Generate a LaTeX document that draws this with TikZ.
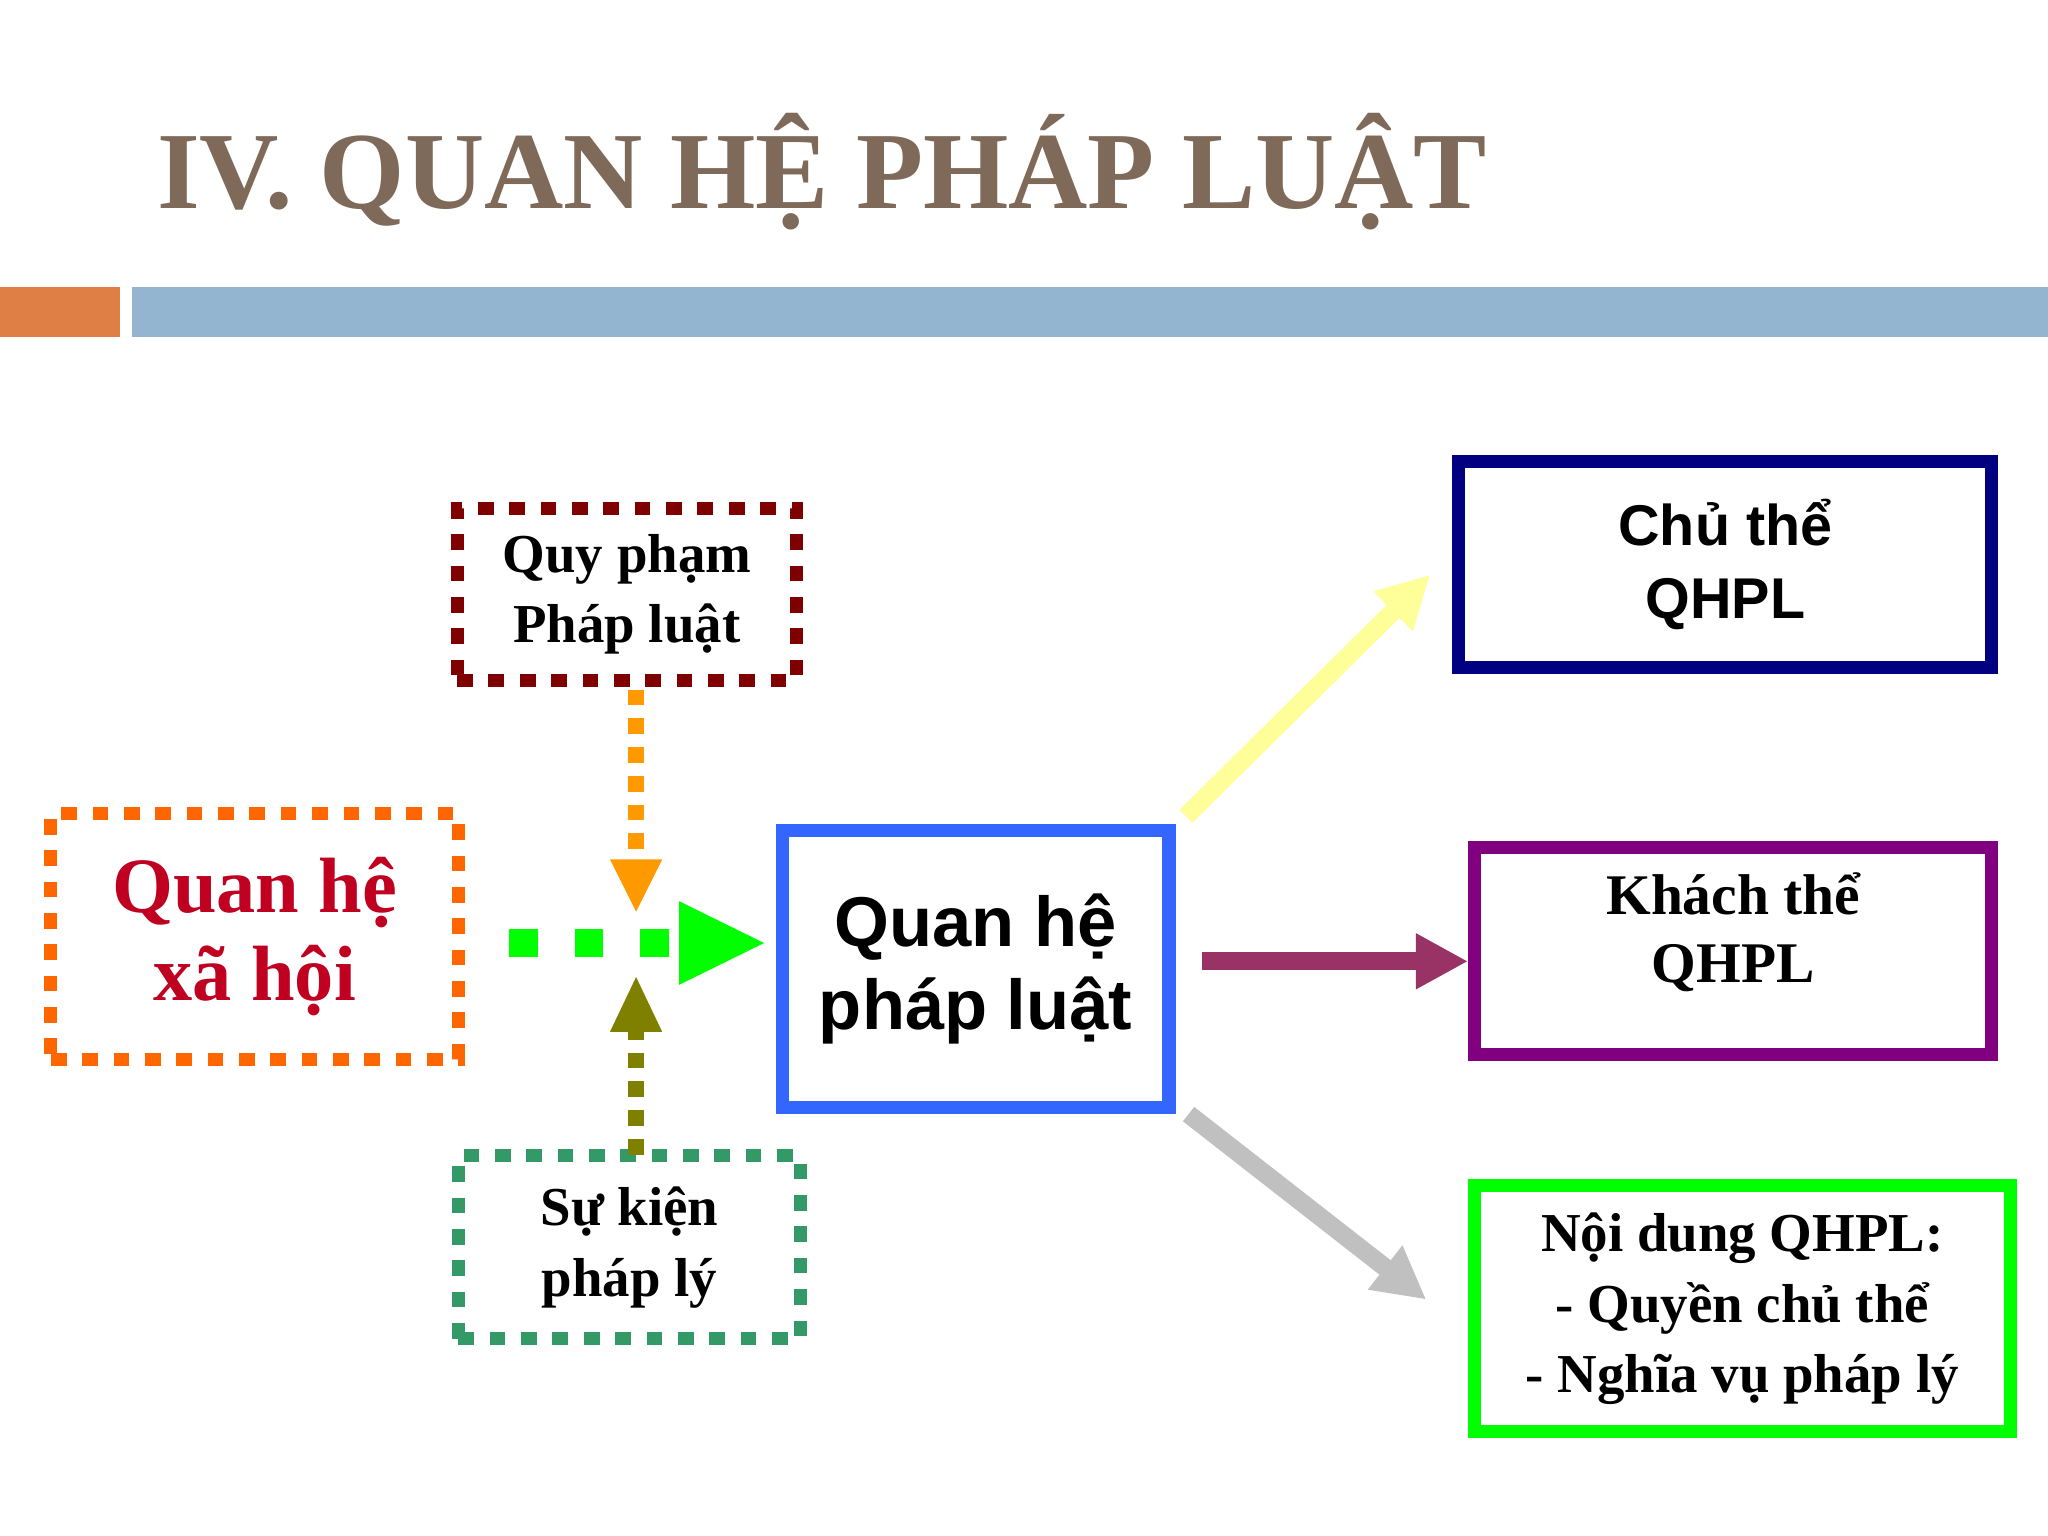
\documentclass[tikz,border=0pt]{standalone}
\usepackage{fontspec}
\setmainfont{Liberation Serif}
\newfontfamily\sansf{Liberation Sans}
\usetikzlibrary{arrows.meta}
\definecolor{titlec}{HTML}{7F6A5A}
\definecolor{orbar}{HTML}{E07F45}
\definecolor{blbar}{HTML}{93B5CF}
\definecolor{dred}{HTML}{7F0000}
\definecolor{orng}{HTML}{FF6600}
\definecolor{redt}{HTML}{C00020}
\definecolor{blu}{HTML}{3366FF}
\definecolor{grn}{HTML}{339966}
\definecolor{navy}{HTML}{000080}
\definecolor{purp}{HTML}{800080}
\definecolor{lime}{HTML}{00FF00}
\definecolor{yel}{HTML}{FFFF99}
\definecolor{maro}{HTML}{993366}
\definecolor{gry}{HTML}{C0C0C0}
\definecolor{oliv}{HTML}{808000}
\definecolor{amb}{HTML}{FF9900}
\tikzset{
  dotbox/.style={draw, line width=5pt, dash pattern=on 6pt off 6pt, align=center, inner sep=0pt},
  solbox/.style={draw, line width=5pt, align=center, inner sep=0pt},
  serifb/.style={font=\bfseries\fontsize{21}{27}\selectfont},
  sansb/.style={font=\sansf\bfseries\fontsize{22}{28}\selectfont},
  arr/.style={line width=7pt, -{Triangle[length=20pt,width=20pt]}},
}
\begin{document}
\begin{tikzpicture}[x=0.5pt,y=-0.5pt]
\useasboundingbox (0,0) rectangle (1568,1176);
\fill[white] (0,0) rectangle (1568,1176);
\node[anchor=base west, text=titlec, font=\bfseries\fontsize{42}{46}\selectfont, inner sep=0pt] (title) at (120,160) {IV. QUAN HỆ PHÁP LUẬT};
\fill[orbar] (0,220) rectangle (92,258);
\fill[blbar] (101,220) rectangle (1568,258);

\node[dotbox, draw=dred, serifb, minimum width=130pt, minimum height=66pt] (qp) at (480,455) {Quy phạm\\Pháp luật};
\node[dotbox, draw=orng, text=redt, font=\bfseries\fontsize{30}{34}\selectfont, minimum width=156pt, minimum height=94pt] (xh) at (195,717) {Quan hệ\\xã hội};
\node[solbox, draw=blu, font=\sansf\bfseries\fontsize{27}{32}\selectfont, minimum width=148pt, minimum height=106pt] (pl) at (747,742) {Quan hệ\\pháp luật};
\node[dotbox, draw=grn, serifb, minimum width=131pt, minimum height=70pt] (sk) at (482,955) {Sự kiện\\pháp lý};
\node[solbox, draw=navy, sansb, minimum width=204pt, minimum height=79pt] (ct) at (1321,432) {Chủ thể\\QHPL};
\node[solbox, draw=purp, font=\bfseries\fontsize{22}{26}\selectfont, minimum width=198pt, minimum height=79pt, text depth=18pt] (kt) at (1327,728) {Khách thể\\QHPL};
\node[solbox, draw=lime, serifb, minimum width=205pt, minimum height=94pt] (nd) at (1334,1002) {Nội dung QHPL:\\- Quyền chủ thể\\- Nghĩa vụ pháp lý};

\coordinate (g1) at (390,722);
\coordinate (g2) at (585,722);
\draw[lime, line width=11pt, dash pattern=on 11pt off 14pt] (g1) -- (520,722);
\fill[lime] (520,690) -- (g2) -- (520,754) -- cycle;
\coordinate (o1) at (487,528);
\coordinate (o2) at (487,698);
\draw[amb, line width=6pt, dash pattern=on 6pt off 5pt] (o1) -- (487,660);
\fill[amb] (467,658) -- (o2) -- (507,658) -- cycle;
\coordinate (v1) at (487,884);
\coordinate (v2) at (487,748);
\draw[oliv, line width=6pt, dash pattern=on 6pt off 5pt] (v1) -- (487,788);
\fill[oliv] (467,790) -- (v2) -- (507,790) -- cycle;

\draw[yel, arr] (pl.north east)++(8,-6) -- (1095,440);
\draw[maro, arr] ([xshift=10pt]pl.east |- 0,736) -- (kt.west |- 0,736);
\draw[gry, arr] (pl.south east)++(10,0) -- (1092,995);
\end{tikzpicture}
\end{document}
